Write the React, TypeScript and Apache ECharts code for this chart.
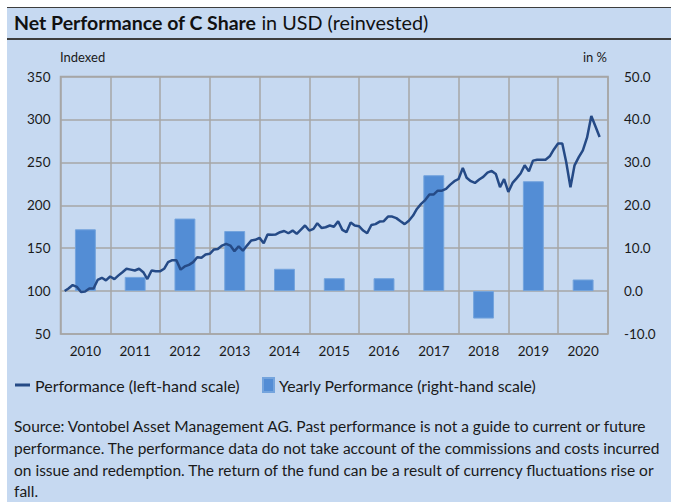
import React, { useEffect, useRef } from "react";
import * as echarts from "echarts";

const FONT = "Lato, 'Noto Sans', sans-serif";

const years = ["2010", "2011", "2012", "2013", "2014", "2015", "2016", "2017", "2018", "2019", "2020"];
const yearlyPerformance = [14.4, 3.3, 16.9, 14.0, 5.2, 3.0, 3.0, 27.0, -6.4, 25.6, 2.7];

// Monthly indexed performance (month-end values), one array per year
const perf2010 = [100, 103, 107, 105, 99, 99.5, 103, 103, 113, 115.5, 112.5, 117];
const perf2011 = [114, 118, 122, 126, 125, 124, 126, 122, 114, 124, 123, 123];
const perf2012 = [126, 133.7, 136, 136, 125, 128.7, 130.6, 133.7, 139.5, 138.8, 142.6, 143.4];
const perf2013 = [148.5, 149, 153, 155, 153, 146.5, 152, 147, 153, 159, 159.7, 162];
const perf2014 = [155.8, 166, 165.5, 166, 168.6, 170, 167.4, 170.5, 166.7, 171.7, 176.4, 170.5];
const perf2015 = [172.5, 179, 173.6, 174.4, 176.4, 175, 181.4, 171.3, 168.6, 180, 176.4, 175.6];
const perf2016 = [170.5, 167.4, 177, 178, 181, 181.4, 186.8, 186.8, 185, 181.4, 178, 182];
const perf2017 = [188, 195.7, 201.6, 206, 212.4, 212.4, 217, 217, 219, 224, 228, 230.6];
const perf2018 = [243.5, 232, 228, 226, 230, 233, 238, 240, 236.5, 221, 230.5, 215.5];
const perf2019 = [226, 231, 237, 246.5, 239.5, 252, 253, 253, 253, 257, 265, 272];
const perf2020 = [272, 250, 221, 246.5, 256, 264, 279, 304, 292, 279.5];

const monthlyPerformance = [
  perf2010, perf2011, perf2012, perf2013, perf2014, perf2015,
  perf2016, perf2017, perf2018, perf2019, perf2020,
];

const titleBold = "Net Performance of C Share";
const titleRest = " in USD (reinvested)";
const leftAxisTitle = "Indexed";
const rightAxisTitle = "in %";
const lineName = "Performance (left-hand scale)";
const barName = "Yearly Performance (right-hand scale)";
const sourceLines = [
  "Source: Vontobel Asset Management AG. Past performance is not a guide to current or future",
  "performance. The performance data do not take account of the commissions and costs incurred",
  "on issue and redemption. The return of the fund can be a result of currency fluctuations rise or",
  "fall.",
];

export default function App() {
  const ref = useRef<HTMLDivElement>(null);

  useEffect(() => {
    if (!ref.current) return;
    const chart = echarts.init(ref.current, null, { renderer: "svg" });

    const lineData: [number, number][] = [];
    monthlyPerformance.forEach((arr, yi) => {
      arr.forEach((v, mi) => {
        // month-end date
        const t = new Date(2010 + yi, mi + 1, 0, 12).getTime();
        lineData.push([t, v]);
      });
    });

    const BG = "#C6D9F1";
    const GRID = "#A6A6A6";
    const TXT = "#1a1a1a";

    const option: any = {
      animation: false,
      backgroundColor: "#ffffff",
      textStyle: { fontFamily: FONT },
      grid: {
        left: 60.5,
        top: 76.5,
        right: 70,
        bottom: 168,
        show: true,
        borderColor: GRID,
        borderWidth: 1.5,
        backgroundColor: "transparent",
        containLabel: false,
      },
      xAxis: [
        {
          type: "category",
          data: years,
          boundaryGap: true,
          axisLine: { show: false },
          axisTick: { show: false },
          axisLabel: { color: TXT, fontSize: 13.5, fontFamily: FONT, margin: 10 },
          splitLine: { show: true, lineStyle: { color: GRID, width: 1.5 } },
        },
        {
          type: "time",
          show: false,
          min: new Date(2010, 0, 1).getTime(),
          max: new Date(2021, 0, 1).getTime(),
        },
      ],
      yAxis: [
        {
          type: "value",
          min: 50,
          max: 350,
          interval: 50,
          axisLine: { show: false },
          axisTick: { show: false },
          axisLabel: { color: TXT, fontSize: 13.5, fontFamily: FONT, margin: 10 },
          splitLine: { show: true, lineStyle: { color: GRID, width: 1.5 } },
        },
        {
          type: "value",
          min: -10,
          max: 50,
          interval: 10,
          axisLine: { show: false },
          axisTick: { show: false },
          axisLabel: {
            color: TXT,
            fontSize: 13.5,
            fontFamily: FONT,
            margin: 16,
            formatter: (v: number) => v.toFixed(1),
          },
          splitLine: { show: false },
        },
      ],
      legend: [
        {
          data: [{ name: lineName, icon: "rect" }],
          left: 15,
          top: 377,
          padding: 0,
          itemWidth: 15,
          itemHeight: 3,
          textStyle: { color: TXT, fontSize: 16, fontFamily: FONT },
        },
        {
          data: [{ name: barName, icon: "rect" }],
          left: 262,
          top: 377,
          padding: 0,
          itemWidth: 11,
          itemHeight: 14,
          textStyle: { color: TXT, fontSize: 15.8, fontFamily: FONT },
        },
      ],
      series: [
        {
          name: barName,
          type: "bar",
          xAxisIndex: 0,
          yAxisIndex: 1,
          data: yearlyPerformance,
          barWidth: "42%",
          itemStyle: { color: "#538DD5", borderColor: "#74A4DD", borderWidth: 1 },
          z: 2,
        },
        {
          name: lineName,
          type: "line",
          xAxisIndex: 1,
          yAxisIndex: 0,
          data: lineData,
          showSymbol: false,
          symbol: "none",
          lineStyle: { color: "#254A86", width: 2.5 },
          itemStyle: { color: "#254A86" },
          z: 3,
        },
      ],
      graphic: [
        {
          type: "rect",
          z: -10,
          silent: true,
          shape: { x: 7, y: 7, width: 664, height: 495 },
          style: { fill: BG },
        },
        {
          type: "line",
          z: -5,
          silent: true,
          shape: { x1: 7, y1: 7.5, x2: 671, y2: 7.5 },
          style: { stroke: "#3d3d3d", lineWidth: 1 },
        },
        {
          type: "line",
          z: -5,
          silent: true,
          shape: { x1: 7, y1: 39, x2: 671, y2: 39 },
          style: { stroke: "#3d3d3d", lineWidth: 2 },
        },
        {
          type: "text",
          x: 14,
          y: 22,
          style: {
            text: `{b|${titleBold}}{n|${titleRest}}`,
            verticalAlign: "middle",
            rich: {
              b: { fontFamily: FONT, fontSize: 19.5, fontWeight: "bold", fill: "#111" },
              n: { fontFamily: FONT, fontSize: 19.8, fontWeight: "normal", fill: "#111" },
            },
          },
        },
        {
          type: "text",
          x: 60,
          y: 57,
          style: { text: leftAxisTitle, fontFamily: FONT, fontSize: 13, fill: TXT, verticalAlign: "middle" },
        },
        {
          type: "text",
          x: 607,
          y: 57,
          style: { text: rightAxisTitle, fontFamily: FONT, fontSize: 13, fill: TXT, align: "right", verticalAlign: "middle" },
        },
        ...sourceLines.map((line, i) => ({
          type: "text",
          x: 14,
          y: 426 + i * 21.8,
          style: { text: line, fontFamily: FONT, fontSize: 15.5, fill: TXT, verticalAlign: "middle" },
        })),
      ],
    };

    chart.setOption(option);
    return () => chart.dispose();
  }, []);

  return (
    <div style={{ position: "fixed", left: 0, top: 0, width: 678, height: 502, background: "#fff" }}>
      <div ref={ref} style={{ width: 678, height: 502 }} />
    </div>
  );
}
